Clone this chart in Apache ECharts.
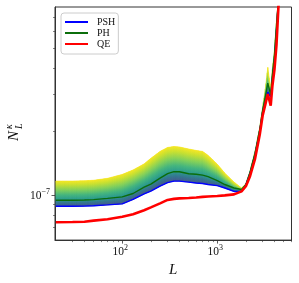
<!DOCTYPE html>
<html><head><meta charset="utf-8">
<script src="https://cdn.jsdelivr.net/npm/echarts@6/dist/echarts.min.js"></script>
<style>html,body{margin:0;padding:0;background:#fff}#c{width:299px;height:283px}</style>
</head><body><div id="c"></div>
<script>
// multipole L
const L = [20,30,40,50,70,100,130,170,200,250,300,350,400,500,600,700,800,1000,1200,1500,1800,2000,2200,2500,2800,3000,3200,3400,3650,3800,4000,4200,4400,4600];
// QE (red)
const qe = [7.42e-8,7.44e-8,7.46e-8,7.55e-8,7.67e-8,7.88e-8,8.10e-8,8.46e-8,8.73e-8,9.12e-8,9.47e-8,9.58e-8,9.63e-8,9.68e-8,9.73e-8,9.79e-8,9.84e-8,9.89e-8,9.95e-8,1.006e-7,1.04e-7,1.10e-7,1.22e-7,1.49e-7,1.94e-7,2.38e-7,2.69e-7,3.02e-7,2.66e-7,3.29e-7,3.96e-7,5.19e-7,7.83e-7,1.0e-6];
// PSH (blue) - lower edge of the shaded family
const psh = [8.83e-8,8.83e-8,8.85e-8,8.88e-8,8.97e-8,9.07e-8,9.52e-8,1.011e-7,1.044e-7,1.102e-7,1.145e-7,1.164e-7,1.164e-7,1.151e-7,1.139e-7,1.133e-7,1.121e-7,1.108e-7,1.079e-7,1.039e-7,1.039e-7,1.12e-7,1.26e-7,1.56e-7,2.02e-7,2.47e-7,2.80e-7,3.08e-7,2.92e-7,3.55e-7,4.41e-7,6.1e-7,8.4e-7,1.0e-6];
// PH (green)
const ph = [9.44e-8,9.44e-8,9.46e-8,9.50e-8,9.63e-8,9.79e-8,1.016e-7,1.090e-7,1.126e-7,1.202e-7,1.262e-7,1.290e-7,1.290e-7,1.262e-7,1.255e-7,1.242e-7,1.222e-7,1.170e-7,1.121e-7,1.079e-7,1.061e-7,1.12e-7,1.27e-7,1.58e-7,2.05e-7,2.52e-7,2.92e-7,3.40e-7,2.99e-7,3.71e-7,4.65e-7,6.44e-7,8.4e-7,1.0e-6];
// upper (yellow) edge of the shaded family
const bandTop = [1.165e-7,1.165e-7,1.168e-7,1.175e-7,1.200e-7,1.252e-7,1.315e-7,1.405e-7,1.493e-7,1.611e-7,1.682e-7,1.700e-7,1.691e-7,1.654e-7,1.628e-7,1.611e-7,1.542e-7,1.399e-7,1.269e-7,1.151e-7,1.079e-7,1.13e-7,1.29e-7,1.62e-7,2.10e-7,2.62e-7,3.19e-7,4.04e-7,3.19e-7,3.96e-7,4.91e-7,6.8e-7,8.4e-7,1.0e-6];

const seriesNames = ['PSH','PH','QE'];
const xMin = 19.6, xMax = 6040, yMin = 6.1e-8, yMax = 7.83e-7;
const xMajor = [2, 3];
const xMinor = [30,40,50,60,70,80,90,200,300,400,500,600,700,800,900,2000,3000,4000,5000,6000];
const yMajor = [-7];
const yMinor = [7e-8,8e-8,9e-8,2e-7,3e-7,4e-7,5e-7,6e-7,7e-7];

const lg = Math.log10;
const FONT = '"Liberation Serif", "DejaVu Serif", serif';
const stops = [
  {offset:0, color:'#f4e61e'},{offset:0.15, color:'#c6df2b'},{offset:0.35, color:'#80cf55'},
  {offset:0.55, color:'#3fb37a'},{offset:0.72, color:'#25998a'},{offset:0.86, color:'#2e728c'},{offset:1, color:'#3f5289'}
];
const supRich = {
  b:{fontFamily:FONT, fontSize:11.5, color:'#111', verticalAlign:'bottom', lineHeight:14},
  s:{fontFamily:FONT, fontSize:8, color:'#111', verticalAlign:'bottom', lineHeight:14, padding:[0,0,6,0]}
};

function bandItem(params, api) {
  const i = params.dataIndex;
  if (i >= L.length-1) return null;
  const b0 = api.coord([L[i], psh[i]]), b1 = api.coord([L[i+1], psh[i+1]]);
  const t0 = api.coord([L[i], bandTop[i]]), t1 = api.coord([L[i+1], bandTop[i+1]]);
  const n = Math.max(1, Math.ceil(Math.abs(t1[0]-t0[0]) / 0.8));
  const children = [];
  for (let k = 0; k < n; k++) {
    const u0 = k/n, u1 = (k+1)/n;
    const p = (a, b, u) => [a[0]+(b[0]-a[0])*u, a[1]+(b[1]-a[1])*u];
    const ta = p(t0,t1,u0), tb = p(t0,t1,u1), ba = p(b0,b1,u0), bb = p(b0,b1,u1);
    const yT = (ta[1]+tb[1])/2; let yB = (ba[1]+bb[1])/2; if (yB < yT+1) yB = yT+1;
    const g = new echarts.graphic.LinearGradient(0, yT, 0, yB, stops, true);
    children.push({type:'polygon', shape:{points:[ta,tb,bb,ba]}, style:{fill:g, stroke:g, lineWidth:0.6}});
  }
  return {type:'group', children};
}

const chart = echarts.init(document.getElementById('c'), null, {renderer:'canvas'});
chart.setOption({
  animation:false,
  grid:{left:55, right:7.5, top:7, bottom:40.3, show:true, borderColor:'#333', borderWidth:1, backgroundColor:'transparent'},
  legend:{
    data:seriesNames, orient:'vertical', left:61, top:13,
    itemWidth:23, itemHeight:9.5, itemGap:1,
    itemStyle:{opacity:0},
    padding:[4,3,5,3], backgroundColor:'rgba(255,255,255,0.85)', borderColor:'#cccccc', borderWidth:1, borderRadius:3,
    textStyle:{fontFamily:FONT, fontSize:10, color:'#111', padding:[0,0,0,4]}
  },
  xAxis:[
    {type:'log', min:xMin, max:xMax, axisLine:{show:false}, axisTick:{show:false}, axisLabel:{show:false}, splitLine:{show:false}},
    {type:'value', min:lg(xMin), max:lg(xMax), position:'bottom',
     axisLine:{show:true, lineStyle:{color:'#333', width:1}},
     axisTick:{show:true, customValues:xMajor, length:3.5, lineStyle:{color:'#333', width:0.8}},
     axisLabel:{customValues:xMajor, margin:4, formatter:v=>'{b|10}{s|'+Math.round(v)+'}', rich:supRich, padding:[0,4,0,0]},
     splitLine:{show:false},
     name:'L', nameLocation:'middle', nameGap:20,
     nameTextStyle:{fontFamily:FONT, fontStyle:'italic', fontSize:15, color:'#111'}},
    {type:'value', min:lg(xMin), max:lg(xMax), position:'bottom',
     axisLine:{show:false}, axisTick:{show:true, customValues:xMinor.map(lg), length:2, lineStyle:{color:'#333', width:0.6}},
     axisLabel:{show:false}, splitLine:{show:false}}
  ],
  yAxis:[
    {type:'log', min:yMin, max:yMax, axisLine:{show:false}, axisTick:{show:false}, axisLabel:{show:false}, splitLine:{show:false}},
    {type:'value', min:lg(yMin), max:lg(yMax), position:'left',
     axisLine:{show:true, lineStyle:{color:'#333', width:1}},
     axisTick:{show:true, customValues:yMajor, length:3.5, lineStyle:{color:'#333', width:0.8}},
     axisLabel:{customValues:yMajor, margin:5, formatter:()=>'{b|10}{s|\u22127}', rich:supRich},
     splitLine:{show:false}},
    {type:'value', min:lg(yMin), max:lg(yMax), position:'left',
     axisLine:{show:false}, axisTick:{show:true, customValues:yMinor.map(lg), length:2, lineStyle:{color:'#333', width:0.6}},
     axisLabel:{show:false}, splitLine:{show:false}}
  ],
  graphic:[{
    type:'group', x:14, y:125, rotation:Math.PI/2,
    children:[
      {type:'text', x:-16, y:0, style:{text:'N', font:'italic 15px '+FONT, fill:'#111', textAlign:'left', textVerticalAlign:'middle'}},
      {type:'text', x:-4, y:-5, style:{text:'κ', font:'italic 10px '+FONT, fill:'#111', textAlign:'left', textVerticalAlign:'middle'}},
      {type:'text', x:-4, y:5, style:{text:'L', font:'italic 10px '+FONT, fill:'#111', textAlign:'left', textVerticalAlign:'middle'}}
    ]
  }],
  series:[
    {type:'custom', name:'band', clip:true, xAxisIndex:0, yAxisIndex:0, silent:true,
     data:L.map((l,i)=>[l, psh[i], bandTop[i]]), renderItem:bandItem},
    {type:'line', name:'PSH', data:L.map((l,i)=>[l, psh[i]]), symbol:'none', showSymbol:false, clip:true,
     lineStyle:{color:'#0000ff', width:1.4}, itemStyle:{color:'#0000ff'}},
    {type:'line', name:'PH', data:L.map((l,i)=>[l, ph[i]]), symbol:'none', showSymbol:false, clip:true,
     lineStyle:{color:'#0b6e0b', width:1.4}, itemStyle:{color:'#0b6e0b'}},
    {type:'line', name:'QE', data:L.map((l,i)=>[l, qe[i]]), symbol:'none', showSymbol:false, clip:true,
     lineStyle:{color:'#ff0000', width:2.6}, itemStyle:{color:'#ff0000'}}
  ]
});
</script></body></html>
